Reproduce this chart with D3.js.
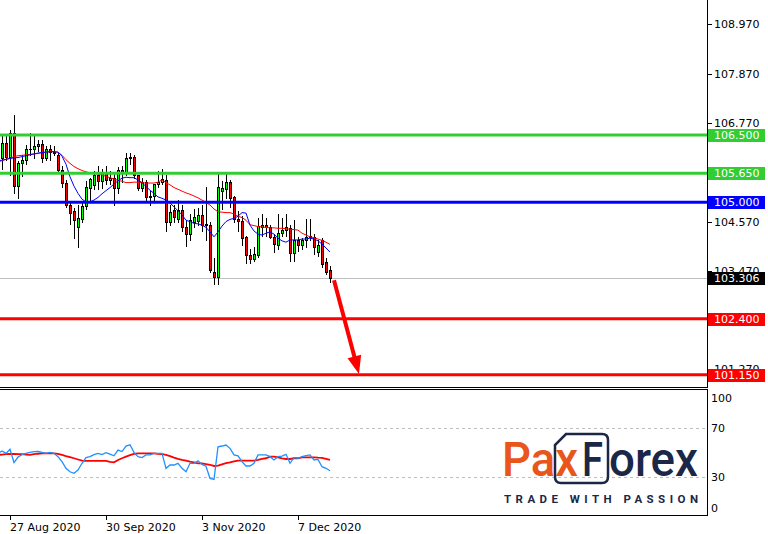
<!DOCTYPE html>
<html><head><meta charset="utf-8">
<script src="https://cdn.jsdelivr.net/npm/d3@7"></script>
<style>body{margin:0;background:#fff}svg{display:block}</style>
</head><body><svg id="c" width="768" height="534"></svg>
<script>
// ---------------- DATA ----------------
const dates = ["2020-08-24","2020-08-25","2020-08-26","2020-08-27","2020-08-28","2020-08-31",
"2020-09-01","2020-09-02","2020-09-03","2020-09-04","2020-09-07","2020-09-08","2020-09-09","2020-09-10","2020-09-11",
"2020-09-14","2020-09-15","2020-09-16","2020-09-17","2020-09-18","2020-09-21","2020-09-22","2020-09-23","2020-09-24","2020-09-25",
"2020-09-28","2020-09-29","2020-09-30","2020-10-01","2020-10-02","2020-10-05","2020-10-06","2020-10-07","2020-10-08","2020-10-09",
"2020-10-12","2020-10-13","2020-10-14","2020-10-15","2020-10-16","2020-10-19","2020-10-20","2020-10-21","2020-10-22","2020-10-23",
"2020-10-26","2020-10-27","2020-10-28","2020-10-29","2020-10-30","2020-11-02","2020-11-03","2020-11-04","2020-11-05","2020-11-06",
"2020-11-09","2020-11-10","2020-11-11","2020-11-12","2020-11-13","2020-11-16","2020-11-17","2020-11-18","2020-11-19","2020-11-20",
"2020-11-23","2020-11-24","2020-11-25","2020-11-26","2020-11-27","2020-11-30","2020-12-01","2020-12-02","2020-12-03","2020-12-04",
"2020-12-07","2020-12-08","2020-12-09","2020-12-10","2020-12-11","2020-12-14","2020-12-15","2020-12-16","2020-12-17"];

const opens = [105.80,105.98,106.33,106.02,106.55,105.37,105.88,105.95,106.18,106.20,106.25,106.30,106.00,106.18,106.12,
106.05,105.72,105.43,104.94,104.80,104.45,104.62,104.92,105.32,105.38,105.60,105.48,105.68,105.50,105.55,
105.32,105.72,105.67,105.98,106.02,105.60,105.32,105.45,105.12,105.15,105.40,105.45,105.50,104.55,104.82,
104.62,104.82,104.45,104.30,104.55,104.58,104.72,104.50,104.50,103.45,103.33,105.25,105.30,105.45,105.12,
104.62,104.58,104.22,103.82,103.74,103.82,104.45,104.50,104.45,104.22,104.05,104.32,104.38,104.42,103.87,
104.15,104.05,104.15,104.22,104.22,103.90,104.15,103.67,103.48];
const highs = [106.05,106.48,106.50,106.62,106.95,105.92,106.05,106.28,106.55,106.50,106.40,106.38,106.25,106.28,106.25,
106.12,105.82,105.50,104.98,104.88,104.95,104.98,105.48,105.55,105.70,105.80,105.75,105.80,105.70,105.68,
105.78,105.80,106.10,106.11,106.05,105.62,105.55,105.50,105.25,105.42,105.70,105.75,105.60,104.95,104.95,
105.05,104.95,104.60,104.75,104.85,104.88,104.95,105.35,104.55,103.75,105.65,105.48,105.68,105.50,105.15,
104.80,104.70,104.25,103.95,104.00,104.65,104.75,104.65,104.50,104.30,104.75,104.65,104.75,104.50,104.60,
104.22,104.20,104.62,104.62,104.30,104.15,104.20,103.75,103.58];
const lows = [105.70,105.75,105.95,105.62,105.20,105.10,105.58,105.85,106.05,106.00,106.15,105.90,105.95,105.95,106.05,
105.65,105.35,104.90,104.52,104.20,104.00,104.55,104.85,105.05,105.30,105.30,105.32,105.40,105.42,104.95,
105.20,105.45,105.60,105.85,105.55,105.28,105.25,105.00,104.95,105.05,105.35,105.40,104.35,104.50,104.55,
104.55,104.35,104.02,104.15,104.45,104.50,104.35,104.15,103.45,103.18,103.18,104.85,105.10,104.90,104.55,
104.35,104.05,103.65,103.65,103.70,103.78,104.25,104.25,104.20,103.90,103.95,104.25,104.25,103.70,103.70,
103.92,103.95,104.00,104.15,103.85,103.80,103.55,103.40,103.22];
const closes = [105.95,106.33,106.02,106.55,105.37,105.88,105.95,106.18,106.20,106.25,106.30,106.00,106.18,106.12,106.10,
105.72,105.43,104.94,104.76,104.60,104.65,104.92,105.35,105.52,105.62,105.48,105.68,105.50,105.55,105.32,
105.72,105.65,105.98,106.02,105.60,105.32,105.45,105.12,105.15,105.40,105.45,105.52,104.55,104.78,104.68,
104.82,104.45,104.30,104.60,104.68,104.72,104.50,104.52,103.48,103.33,105.35,105.33,105.45,105.10,104.62,
104.58,104.20,103.82,103.74,103.85,104.48,104.50,104.45,104.22,104.08,104.32,104.38,104.45,103.87,104.15,
104.05,104.15,104.22,104.25,104.00,104.05,103.63,103.45,103.306];

// moving averages (fast = blue, slow = red)
const maFast = [105.93,105.94,105.96,105.98,105.99,106.00,106.02,106.04,106.06,106.08,106.10,106.11,106.12,106.13,106.13,
106.12,106.03,105.85,105.57,105.36,105.20,105.07,105.01,105.01,105.05,105.11,105.19,105.26,105.33,105.41,
105.48,105.54,105.56,105.55,105.55,105.50,105.44,105.35,105.27,105.20,105.12,105.09,105.05,104.98,104.90,
104.81,104.72,104.60,104.57,104.53,104.52,104.49,104.44,104.34,104.23,104.34,104.47,104.57,104.62,104.64,
104.69,104.77,104.76,104.49,104.36,104.29,104.27,104.31,104.34,104.29,104.20,104.14,104.11,104.16,104.16,
104.16,104.18,104.18,104.20,104.18,104.14,104.07,103.98,103.89];
const maSlow = [105.90,105.93,105.96,105.98,106.02,106.04,106.05,106.06,106.07,106.08,106.09,106.11,106.12,106.13,106.13,
106.12,106.05,105.95,105.87,105.80,105.75,105.71,105.68,105.66,105.65,105.63,105.61,105.58,105.55,105.52,
105.49,105.47,105.44,105.44,105.45,105.45,105.44,105.43,105.43,105.43,105.45,105.50,105.44,105.39,105.33,
105.29,105.25,105.21,105.18,105.14,105.10,105.05,105.00,104.94,104.85,104.79,104.78,104.77,104.77,104.74,
104.69,104.66,104.60,104.50,104.48,104.46,104.45,104.44,104.43,104.43,104.42,104.42,104.41,104.40,104.39,
104.38,104.31,104.27,104.23,104.21,104.18,104.15,104.11,104.06];

// oscillator panel (RSI = blue, signal = red)
const rsi = [49.5,51.5,49.5,52.8,42.0,46.5,48.5,49.5,50.3,50.9,51.0,50.3,49.5,50.3,49.5,
46.8,42.7,37.3,34.5,33.2,35.9,41.4,46.0,46.8,48.5,49.5,48.5,50.1,48.8,47.5,
52.2,51.0,55.5,56.5,50.3,46.8,46.0,48.2,48.2,49.5,49.5,49.5,37.3,40.0,40.0,
41.4,37.3,34.5,41.4,41.4,43.5,40.5,39.0,29.1,28.3,54.9,55.5,56.3,53.6,48.2,
47.5,42.7,39.2,39.2,41.4,48.2,48.2,48.2,46.8,44.1,46.8,47.2,48.7,41.4,46.0,
45.5,46.8,47.6,48.2,44.1,44.6,38.6,37.3,35.3];
const rsiSignal = [48.2,48.5,48.8,49.0,49.0,48.8,48.8,48.5,48.2,48.8,49.2,49.5,49.5,49.5,49.5,
49.0,48.2,47.3,46.5,45.5,44.5,43.5,43.3,43.3,43.3,43.3,43.3,43.3,42.5,42.2,
44.1,45.5,46.8,48.0,49.0,49.5,49.5,49.5,49.5,49.5,49.0,48.8,48.2,47.3,46.0,
45.0,44.1,43.5,42.7,42.2,41.4,41.4,40.8,40.2,39.2,39.5,40.5,41.5,42.2,43.0,
43.5,43.5,43.5,43.5,43.5,44.1,45.0,45.5,46.8,46.8,46.3,45.5,44.9,44.9,45.5,
45.5,46.3,46.3,46.3,46.3,46.0,45.8,45.0,44.1];

// price-scale labels that are visible (fully or partly) in the reference
const priceTicks = [108.970,107.870,106.770,104.570,103.470,101.270];
const rsiTicks = [100,70,30,0];
const rsiLevels = [70,30];
const levelPrices = [106.500,105.650,105.000,102.400,101.150];
const levelKinds = ["resistance","resistance","pivot","support","support"];
const lastPrice = 103.306;
const dateTickDates = ["2020-08-27","2020-09-30","2020-11-03","2020-12-07"];
const dateTickLabels = ["27 Aug 2020","30 Sep 2020","3 Nov 2020","7 Dec 2020"];
// forecast arrow: from last bar area down to the lower support
const arrowFrom = {bar: 81, price: 103.26};
const arrowTo = {bar: 87.25, price: 101.17};

// ---------------- STYLE ----------------
const FONT = "'DejaVu Sans', Verdana, sans-serif";
const kindColor = {resistance:"#32cd32", pivot:"#0000ff", support:"#ff0000"};
const BULL = "#00ff00", BEAR = "#ff0000";
const AXIS_X = 707;

const svg = d3.select("#c");
svg.append("rect").attr("width",768).attr("height",534).attr("fill","#fff");

const firstIdx = dates.indexOf("2020-08-27");
const bars = dates.map((d,k)=>({date:d, i:k-firstIdx, o:opens[k], h:highs[k], l:lows[k], c:closes[k],
  f:maFast[k], s:maSlow[k], r:rsi[k], rs:rsiSignal[k]}));

const x = d3.scaleLinear().domain([0,72]).range([10,298]);
const y = d3.scaleLinear().domain([100.90,109.516]).range([386,0]);
const ry = d3.scaleLinear().domain([0,100]).range([514,391.5]);

const defs = svg.append("defs");
defs.append("clipPath").attr("id","mainClip").append("rect").attr("x",0).attr("y",0).attr("width",AXIS_X).attr("height",387);
defs.append("clipPath").attr("id","rsiClip").append("rect").attr("x",0).attr("y",390).attr("width",AXIS_X).attr("height",125);

// ---------- main panel ----------
const gMain = svg.append("g").attr("clip-path","url(#mainClip)");

gMain.append("line").attr("x1",0).attr("x2",AXIS_X).attr("y1",Math.round(y(lastPrice))+0.5).attr("y2",Math.round(y(lastPrice))+0.5)
  .attr("stroke","#c0c0c0").attr("stroke-width",1);

const gC = gMain.append("g").attr("shape-rendering","crispEdges");
const cx = d => Math.round(x(d.i));
gC.selectAll("rect.w").data(bars).join("rect").attr("class","w")
  .attr("x",cx).attr("width",1)
  .attr("y",d=>Math.round(y(d.h))).attr("height",d=>Math.max(1,Math.round(y(d.l))-Math.round(y(d.h))+1))
  .attr("fill","#000");
const bodyTop = d=>Math.round(y(Math.max(d.o,d.c))), bodyBot = d=>Math.round(y(Math.min(d.o,d.c)));
gC.selectAll("rect.b").data(bars).join("rect").attr("class","b")
  .attr("x",d=>cx(d)-1).attr("width",3)
  .attr("y",bodyTop).attr("height",d=>Math.max(1,bodyBot(d)-bodyTop(d)+1)).attr("fill","#000");
gC.selectAll("rect.f").data(bars.filter(d=>bodyBot(d)-bodyTop(d)>=2)).join("rect").attr("class","f")
  .attr("x",cx).attr("width",1)
  .attr("y",d=>bodyTop(d)+1).attr("height",d=>bodyBot(d)-bodyTop(d)-1)
  .attr("fill",d=>d.c>=d.o?BULL:BEAR);

const lineMa = key => d3.line().x(d=>x(d.i)).y(d=>y(d[key]));
gMain.append("path").attr("d",lineMa("s")(bars)).attr("fill","none").attr("stroke","#ff0000").attr("stroke-width",1);
gMain.append("path").attr("d",lineMa("f")(bars)).attr("fill","none").attr("stroke","#0000ff").attr("stroke-width",1);

const levels = levelPrices.map((p,k)=>({p, kind:levelKinds[k]}));
gMain.selectAll("line.lv").data(levels).join("line").attr("class","lv")
  .attr("x1",0).attr("x2",AXIS_X).attr("y1",d=>y(d.p)).attr("y2",d=>y(d.p))
  .attr("stroke",d=>kindColor[d.kind]).attr("stroke-width",3);

const ax1 = x(arrowFrom.bar), ay1 = y(arrowFrom.price), ax2 = x(arrowTo.bar), ay2 = y(arrowTo.price);
const len = Math.hypot(ax2-ax1, ay2-ay1), ux=(ax2-ax1)/len, uy=(ay2-ay1)/len;
const headL = 18, headW = 7;
const hbx = ax2-ux*headL, hby = ay2-uy*headL;
gMain.append("line").attr("x1",ax1).attr("y1",ay1).attr("x2",hbx+ux*2).attr("y2",hby+uy*2)
  .attr("stroke","#ff0000").attr("stroke-width",4);
gMain.append("path").attr("d",`M${ax2},${ay2}L${hbx-uy*headW},${hby+ux*headW}L${hbx+uy*headW},${hby-ux*headW}Z`).attr("fill","#ff0000");

// ---------- rsi panel ----------
const gR = svg.append("g").attr("clip-path","url(#rsiClip)");
gR.selectAll("line.rl").data(rsiLevels).join("line").attr("class","rl")
  .attr("x1",0).attr("x2",AXIS_X).attr("y1",d=>Math.round(ry(d))+0.5).attr("y2",d=>Math.round(ry(d))+0.5)
  .attr("stroke","#c0c0c0").attr("stroke-dasharray","3,3");
gR.append("path").attr("d",d3.line().x(d=>x(d.i)).y(d=>ry(d.rs))(bars)).attr("fill","none").attr("stroke","#ff0000").attr("stroke-width",1.8);
gR.append("path").attr("d",d3.line().x(d=>x(d.i)).y(d=>ry(d.r))(bars)).attr("fill","none").attr("stroke","#1e90ff").attr("stroke-width",1.3);

// ---------- frames / axes ----------
const gA = svg.append("g").attr("shape-rendering","crispEdges");
gA.append("line").attr("x1",AXIS_X+0.5).attr("x2",AXIS_X+0.5).attr("y1",0).attr("y2",388).attr("stroke","#000");
gA.append("line").attr("x1",0).attr("x2",AXIS_X+1).attr("y1",387.5).attr("y2",387.5).attr("stroke","#000");
gA.append("line").attr("x1",0).attr("x2",AXIS_X+1).attr("y1",389.5).attr("y2",389.5).attr("stroke","#000");
gA.append("line").attr("x1",AXIS_X+0.5).attr("x2",AXIS_X+0.5).attr("y1",389).attr("y2",516).attr("stroke","#000");
gA.append("line").attr("x1",0).attr("x2",AXIS_X+1).attr("y1",515.5).attr("y2",515.5).attr("stroke","#000");

gA.selectAll("line.pt").data(priceTicks).join("line").attr("class","pt")
  .attr("x1",AXIS_X+1).attr("x2",AXIS_X+5).attr("y1",d=>Math.round(y(d))+0.5).attr("y2",d=>Math.round(y(d))+0.5).attr("stroke","#000");
svg.selectAll("text.pl").data(priceTicks).join("text").attr("class","pl")
  .attr("x",714).attr("y",d=>y(d)).attr("dy","0.36em").attr("font-family",FONT).attr("font-size",11).attr("fill","#000")
  .text(d=>d3.format(".3f")(d));

const labelBox = (p, color) => {
  const g = svg.append("g");
  g.append("rect").attr("x",708).attr("y",Math.round(y(p))-6).attr("width",57).attr("height",13).attr("fill",color).attr("shape-rendering","crispEdges");
  g.append("text").attr("x",714).attr("y",y(p)).attr("dy","0.36em").attr("font-family",FONT).attr("font-size",11).attr("fill","#fff")
    .text(d3.format(".3f")(p));
};
labelBox(lastPrice, "#000");
levels.forEach(d=>labelBox(d.p, kindColor[d.kind]));

svg.selectAll("text.rt").data(rsiTicks).join("text").attr("class","rt")
  .attr("x",711).attr("y",d=>Math.min(508,Math.max(398,ry(d)))).attr("dy","0.36em")
  .attr("font-family",FONT).attr("font-size",11).attr("fill","#000").text(d=>d);

const dateTicks = dateTickDates.map((d,k)=>({i:dates.indexOf(d)-firstIdx, label:dateTickLabels[k]}));
gA.selectAll("line.dt").data(dateTicks).join("line").attr("class","dt")
  .attr("x1",d=>Math.round(x(d.i))+0.5).attr("x2",d=>Math.round(x(d.i))+0.5).attr("y1",515).attr("y2",520).attr("stroke","#000");
svg.selectAll("text.dl").data(dateTicks).join("text").attr("class","dl")
  .attr("x",d=>x(d.i)).attr("y",531).attr("font-family",FONT).attr("font-size",11).attr("fill","#000").text(d=>d.label);

// ---------- logo ----------
const ORANGE = "#e8561c", NAVY = "#1b2747";
const gL = svg.append("g");
gL.append("path").attr("d","M566,434 H602 Q608,434 608,440 V477 Q608,483 602,483 H561 Q555,483 555,477 V445 Z")
  .attr("fill","none").attr("stroke",NAVY).attr("stroke-width",2.5);
const LF = "Roboto, 'Open Sans', sans-serif";
const logoText = (tx, x0, len, color) => gL.append("text").attr("x",x0).attr("y",476).attr("font-family",LF)
  .attr("font-weight",500).attr("font-size",48).attr("fill",color)
  .attr("textLength",len).attr("lengthAdjust","spacingAndGlyphs").text(tx);
logoText("Pax", 502, 76, ORANGE);
logoText("F", 582, 21, NAVY);
logoText("orex", 609, 89, NAVY);
gL.append("text").attr("x",504).attr("y",503).attr("font-family",LF).attr("font-weight",700).attr("font-size",11.5)
  .attr("fill",NAVY).attr("textLength",194).attr("lengthAdjust","spacing").text("TRADE WITH PASSION");
</script></body></html>
